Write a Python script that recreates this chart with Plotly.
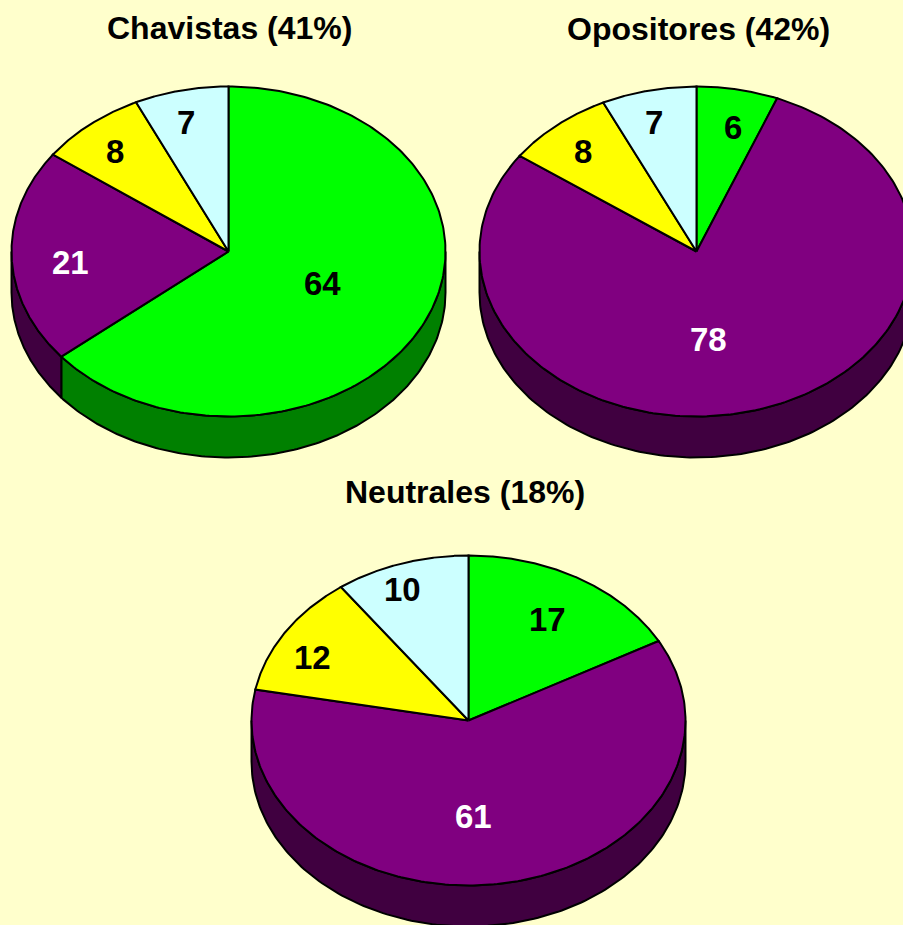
import numpy as np
import plotly.graph_objects as go

titles = ["Chavistas (41%)", "Opositores (42%)", "Neutrales (18%)"]
chavistas = [64, 21, 8, 7]
opositores = [6, 78, 8, 7]
neutrales = [17, 61, 12, 10]
top_colors = ["#00FF00", "#800080", "#FFFF00", "#CCFFFF"]
side_colors = ["#008000", "#400040", "#808000", "#668080"]
label_colors = ["black", "white", "black", "black"]

# layout constants (pixels of a 903x925 canvas)
centers = [(228.5, 251.5), (696.5, 251.5), (468.5, 720.5)]
RX, RY, DEPTH = 217, 165, 41
title_pos = [(229, 28), (698, 29), (465, 492)]
label_pos = [
    [(322, 283), (70, 262), (115, 151), (186, 122)],
    [(733, 127), (708, 339), (583, 151), (654, 122)],
    [(547, 619), (473, 816), (312, 657), (402, 589)],
]
FONT = "Liberation Sans, Arial, sans-serif"
BG = "#FFFFCC"

fig = go.Figure()


def ell(cx, cy, t):
    return cx + RX * np.sin(t), cy - RY * np.cos(t)


def poly(x, y, fill):
    fig.add_trace(go.Scatter(
        x=list(x), y=list(y), mode="lines", fill="toself", fillcolor=fill,
        line=dict(color="black", width=2), hoverinfo="skip", showlegend=False,
    ))


def draw_pie(values, center):
    cx, cy = center
    total = sum(values)
    edges = 2 * np.pi * np.concatenate([[0], np.cumsum(values)]) / total
    # walls of the visible lower half
    for i in range(len(values)):
        a, b = max(edges[i], np.pi / 2), min(edges[i + 1], 3 * np.pi / 2)
        if b <= a:
            continue
        t = np.linspace(a, b, 160)
        x, y = ell(cx, cy, t)
        xs = np.concatenate([x, x[::-1], x[:1]])
        ys = np.concatenate([y, y[::-1] + DEPTH, y[:1]])
        poly(xs, ys, side_colors[i])
    # top wedges
    for i in range(len(values)):
        t = np.linspace(edges[i], edges[i + 1], 240)
        x, y = ell(cx, cy, t)
        poly(np.concatenate([[cx], x, [cx]]), np.concatenate([[cy], y, [cy]]), top_colors[i])


for vals, c in zip([chavistas, opositores, neutrales], centers):
    draw_pie(vals, c)

for vals, positions in zip([chavistas, opositores, neutrales], label_pos):
    for v, (lx, ly), col in zip(vals, positions, label_colors):
        fig.add_annotation(x=lx, y=ly, text=f"<b>{v}</b>", showarrow=False,
                           font=dict(family=FONT, size=33, color=col),
                           xanchor="center", yanchor="middle")

for text, (tx, ty) in zip(titles, title_pos):
    fig.add_annotation(x=tx, y=ty, text=f"<b>{text}</b>", showarrow=False,
                       font=dict(family=FONT, size=32, color="black"),
                       xanchor="center", yanchor="middle")

fig.update_layout(
    width=903, height=925, margin=dict(l=0, r=0, t=0, b=0),
    paper_bgcolor=BG, plot_bgcolor=BG, showlegend=False,
    xaxis=dict(range=[0, 903], visible=False, fixedrange=True),
    yaxis=dict(range=[925, 0], visible=False, fixedrange=True),
)
fig.write_html("out.html", config={"displayModeBar": False},
               post_script="document.body.style.margin='0';document.documentElement.style.overflow='hidden';window.dispatchEvent(new Event('resize'));")
